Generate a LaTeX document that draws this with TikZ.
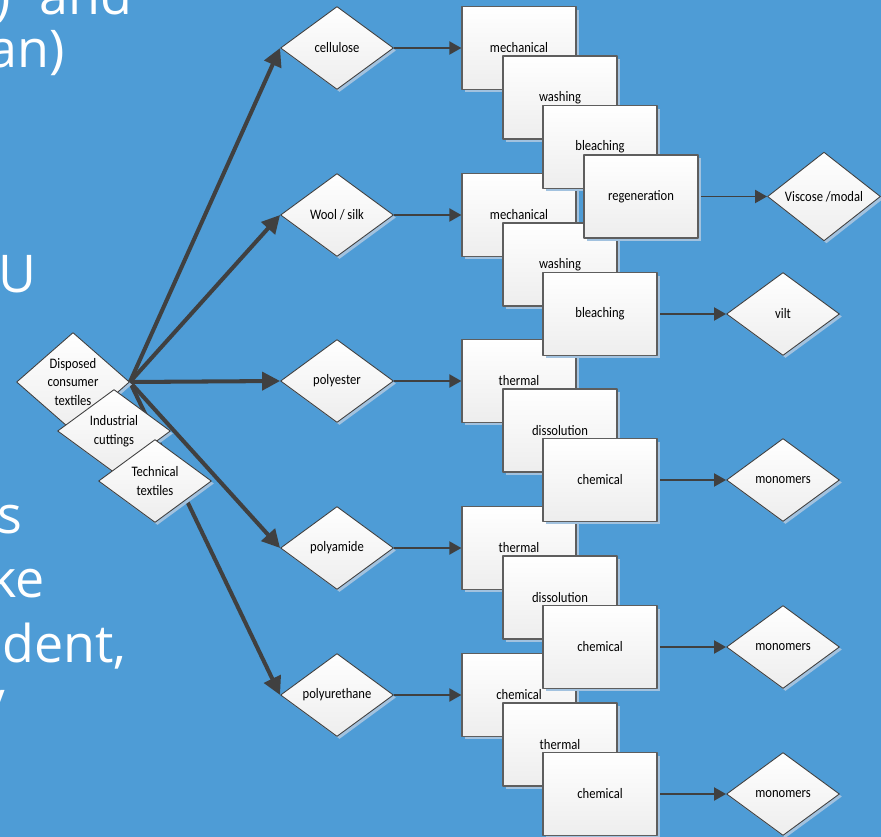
\documentclass[tikz,border=0pt]{standalone}
\usepackage{fontspec}
\usetikzlibrary{shapes.geometric,arrows.meta,shadows,backgrounds}
\newfontfamily\slidefont{Open Sans}
\newfontfamily\chartfont[FakeStretch=0.87]{Carlito}
\definecolor{SlideBlue}{HTML}{4E9CD6}
\definecolor{FlowGray}{HTML}{404040}
\definecolor{EdgeGray}{HTML}{5E5E5E}
\definecolor{ShadowBlue}{HTML}{A2C2DF}

\tikzset{
  material/.style={diamond,draw=FlowGray,line width=.5pt,top color=white,bottom color=black!7,
    minimum width=2.26cm,minimum height=1.66cm,inner sep=0pt,align=center,
    font=\chartfont\fontsize{8.25}{10.8}\selectfont,
    drop shadow={shadow xshift=.05cm,shadow yshift=-.05cm,fill=ShadowBlue,opacity=1}},
  process/.style={rectangle,draw=EdgeGray,line width=.7pt,top color=white,bottom color=black!7,
    minimum width=2.28cm,minimum height=1.66cm,inner sep=0pt,
    font=\chartfont\fontsize{8.25}{10.8}\selectfont,
    drop shadow={shadow xshift=.06cm,shadow yshift=-.06cm,fill=ShadowBlue,opacity=1}},
  feed/.style={FlowGray,line width=2.3pt,-{Triangle[length=.36cm,width=.36cm]}},
  flow/.style={FlowGray,line width=1.1pt,-{Triangle[length=.24cm,width=.26cm]}},
  slide/.style={anchor=base west,inner sep=0pt,text=white,font=\slidefont\fontsize{29.6}{35}\selectfont}
}

\begin{document}
\begin{tikzpicture}[x=.02cm,y=-.02cm,line join=round]
  \useasboundingbox (0,0) rectangle (881,837);
  % slide text behind the chart
  \node[slide] (s1) at (-5,15) {)\hspace{.57cm}and};
  \node[slide] (s2) at (-12,68) {an)};
  \node[slide] (s3) at (-2,293) {U};
  \node[slide] (s4) at (-3,533) {s};
  \node[slide] (s5) at (-11,597) {ke};
  \node[slide] (s6) at (2,662) {dent,};
  \node[slide] (s7) at (-14,727) {/};
  % polyurethane
  \node[material] (pu) at (337,695) {polyurethane};
  \node[process] (puChem) at (519,695) {chemical};
  \node[process] (puTherm) at (560,744.5) {thermal};
  \node[process] (puChem2) at (600,794) {chemical};
  \node[material] (puMono) at (783,794) {monomers};
  % polyamide
  \node[material] (pa) at (337,548) {polyamide};
  \node[process] (paTherm) at (519,548) {thermal};
  \node[process] (paDiss) at (560,597.5) {dissolution};
  \node[process] (paChem) at (600,647) {chemical};
  \node[material] (paMono) at (783,647) {monomers};
  % polyester
  \node[material] (pes) at (337,381) {polyester};
  \node[process] (pesTherm) at (519,381) {thermal};
  \node[process] (pesDiss) at (560,430.5) {dissolution};
  \node[process] (pesChem) at (600,480) {chemical};
  \node[material] (pesMono) at (783,480) {monomers};
  % wool / silk
  \node[material] (wool) at (337,215) {Wool / silk};
  \node[process] (woolMech) at (519,215) {mechanical};
  \node[process] (woolWash) at (560,264.5) {washing};
  \node[process] (woolBleach) at (600,314) {bleaching};
  \node[material] (vilt) at (783,314) {vilt};
  % cellulose
  \node[material] (cel) at (337,48) {cellulose};
  \node[process] (celMech) at (519,48) {mechanical};
  \node[process] (celWash) at (560,97.5) {washing};
  \node[process] (celBleach) at (600,147) {bleaching};
  \node[process] (celRegen) at (641,196.5) {regeneration};
  \node[material] (viscose) at (824,196.5) {Viscose /modal};
  % sources
  \node[material] (disposed) at (73,382) {Disposed\\consumer\\textiles};
  \node[material] (industrial) at (114,431) {Industrial\\cuttings};
  \node[material] (technical) at (155,481) {Technical\\textiles};

  \begin{scope}[on background layer]
    \fill[SlideBlue] (0,0) rectangle (881,837);
    \draw[feed] (disposed.east) -- (cel.west);
    \draw[feed] (disposed.east) -- (wool.west);
    \draw[feed] (disposed.east) -- (pes.west);
    \draw[feed] (disposed.east) -- (pa.west);
    \draw[feed] (disposed.east) -- (pu.west);
    \draw[flow] (cel.east) -- (celMech.west);
    \draw[flow] (celRegen.east) -- (viscose.west);
    \draw[flow] (wool.east) -- (woolMech.west);
    \draw[flow] (woolBleach.east) -- (vilt.west);
    \draw[flow] (pes.east) -- (pesTherm.west);
    \draw[flow] (pesChem.east) -- (pesMono.west);
    \draw[flow] (pa.east) -- (paTherm.west);
    \draw[flow] (paChem.east) -- (paMono.west);
    \draw[flow] (pu.east) -- (puChem.west);
    \draw[flow] (puChem2.east) -- (puMono.west);
  \end{scope}
\end{tikzpicture}
\end{document}
